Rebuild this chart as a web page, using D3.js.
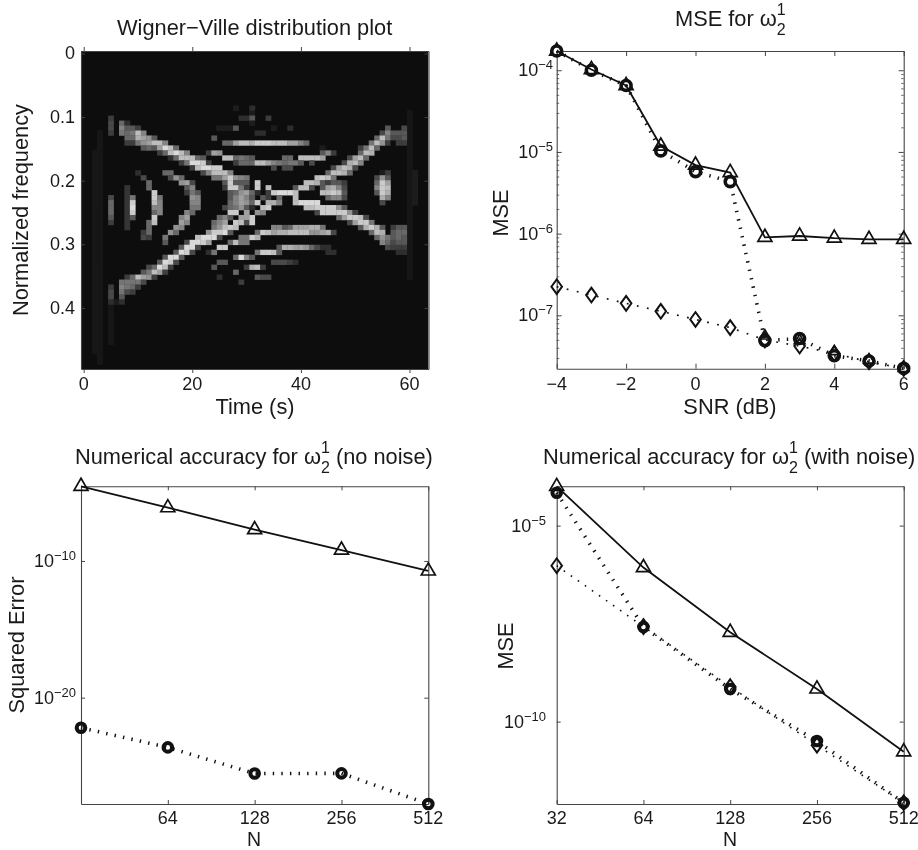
<!DOCTYPE html>
<html>
<head>
<meta charset="utf-8">
<script src="https://cdn.jsdelivr.net/npm/d3@7"></script>
<style>
  html, body { margin: 0; padding: 0; background: #fff; }
  svg { display: block; filter: blur(0.35px); }
  text { font-family: "Liberation Sans", Arial, sans-serif; fill: #1a1a1a; }
</style>
</head>
<body>
<svg id="chart" width="918" height="850"></svg>
<script>
const wvSize = 64;
const wvTimeTicks = [0, 20, 40, 60];
const wvFreqTicks = [0, 0.1, 0.2, 0.3, 0.4];
// [column, first row, last row, level] faint vertical bands
const wvStripes = [
  [3, 16, 62, 0.35], [2, 20, 60, 0.2], [60, 12, 45, 0.35], [61, 24, 30, 1], [8, 27, 35, 2.5], [5, 50, 58, 0.35]
];
// [row, first column, levels]
const wvRuns = [
  [11,28,"1"],[11,31,"2"],[12,31,"1"],
  [13,5,"3"],[13,29,"225"],[13,34,"3"],
  [14,5,"4"],[14,7,"62"],[14,31,"1"],
  [15,5,"4"],[15,7,"8553"],[15,25,"111"],[15,28,"5"],[15,35,"1"],[15,38,"2"],[15,56,"5"],[15,59,"4"],
  [16,5,"3"],[16,7,"767c8"],[16,32,"22"],[16,55,"48555"],
  [17,8,"66ba95"],[17,24,"5"],[17,54,"6c7445"],
  [18,8,"3379acc8"],[18,26,"66accbdddcccaa86"],[18,53,"7c93033"],
  [19,11,"565aec6"],[19,44,"1"],[19,51,"37c6"],
  [20,14,"36cec8"],[20,23,"3a9"],[20,44,"583"],[20,51,"6cb"],
  [21,16,"26ccc6"],[21,22,"5"],[21,26,"cc6765"],[21,37,"66"],[21,40,"cccca"],[21,49,"4ac6"],
  [22,18,"37eed3"],[22,28,"3666"],[22,32,"cca876775"],[22,42,"4"],[22,48,"4bc8"],
  [23,20,"3ceedd"],[23,35,"4"],[23,37,"44"],[23,46,"4acb4"],
  [24,10,"2"],[24,15,"66"],[24,22,"4"],[24,23,"8ccc8"],[24,45,"6ccb6"],[24,55,"13"],
  [25,11,"4"],[25,16,"496"],[25,24,"77ad987"],[25,43,"cdc7"],[25,54,"495"],
  [26,12,"6"],[26,18,"9a4"],[26,26,"5d555"],[26,32,"d"],[26,41,"ccb53553"],[26,54,"6da"],
  [27,12,"6"],[27,19,"58"],[27,26,"3dd73"],[27,32,"d"],[27,34,"c"],[27,39,"5cc4"],[27,44,"5ab84"],[27,54,"8dc"],
  [28,13,"d"],[28,19,"375"],[28,27,"569a62"],[28,34,"3deeec"],[28,44,"ccdc5"],[28,54,"5db"],
  [29,5,"4"],[29,9,"7"],[29,13,"d7"],[29,20,"98"],[29,27,"58a85"],[29,33,"53"],[29,36,"6"],[29,39,"c"],[29,45,"6884"],[29,55,"b8"],
  [30,5,"6"],[30,9,"d"],[30,13,"c8"],[30,20,"88"],[30,27,"68a96"],[30,32,"d"],[30,34,"bb"],[30,36,"8"],[30,39,"ceeee"],[30,55,"4"],
  [31,5,"6"],[31,9,"e"],[31,13,"88"],[31,20,"77"],[31,26,"467952"],[31,33,"cd"],[31,41,"ccdddd95"],
  [32,5,"6"],[32,9,"d"],[32,13,"68"],[32,19,"86"],[32,27,"dd"],[32,30,"a"],[32,32,"98"],[32,43,"4ddddd93"],
  [33,5,"5"],[33,9,"5"],[33,13,"d"],[33,18,"8a"],[33,25,"685"],[33,29,"aad"],[33,47,"6addc4"],
  [34,5,"3"],[34,12,"6c"],[34,18,"a8"],[34,24,"68a"],[34,28,"dc4"],[34,31,"d"],[34,49,"4add7"],
  [35,12,"6"],[35,17,"98"],[35,24,"79cdc"],[35,35,"8856aaabb7"],[35,51,"5bdb5"],[35,57,"355"],
  [36,11,"36"],[36,16,"96"],[36,23,"9dde5"],[36,32,"6dcabbcccc"],[36,42,"99ab4"],[36,53,"6cb"],[36,57,"566"],
  [37,11,"43"],[37,15,"7"],[37,21,"ceee4"],[37,29,"77db"],[37,54,"697565"],
  [38,15,"5"],[38,19,"4eeda"],[38,27,"6c77"],[38,55,"86455"],
  [39,18,"5ee4"],[39,25,"dd"],[39,36,"5bbaa96422"],[39,56,"4333"],
  [40,17,"5ed4"],[40,23,"27"],[40,32,"7ddc5"],[40,45,"22"],[40,58,"22"],
  [41,15,"5ee5"],[41,28,"6e85"],
  [42,14,"5ed4"],[42,25,"55"],[42,35,"44432"],
  [43,12,"46ec3"],[43,24,"5"],[43,30,"3bc3"],
  [44,11,"57ca3"],[44,28,"6"],
  [45,8,"36ca93"],[45,25,"2"],[45,32,"544"],
  [46,7,"77774"],[46,29,"3"],
  [47,5,"3"],[47,7,"8763"],
  [48,5,"4"],[48,7,"743"],
  [49,5,"4"],[49,7,"5"],
  [50,5,"212"]
];

// --- MSE vs SNR ---
const snrDb = [-4, -3, -2, -1, 0, 1, 2, 3, 4, 5, 6];
const snrTicks = [-4, -2, 0, 2, 4, 6];
const snrDecades = [1e-4, 1e-5, 1e-6, 1e-7];
const snrTriangle = [1.72e-4, 1.02e-4, 6.5e-5, 1.18e-5, 6.9e-6, 5.6e-6, 9.0e-7, 9.35e-7, 8.8e-7, 8.5e-7, 8.5e-7];
const snrCircle = [1.72e-4, 1.0e-4, 6.5e-5, 1.03e-5, 5.74e-6, 4.33e-6, 4.9e-8, 5.2e-8, 3.2e-8, 2.76e-8, 2.24e-8];
const snrDiamond = [2.24e-7, 1.77e-7, 1.4e-7, 1.12e-7, 8.9e-8, 7.07e-8, 4.99e-8, 4.2e-8, 3.4e-8, 2.7e-8, 2.24e-8];
// small triangles that peek out around the circles at high SNR
const snrLowDb = [2, 3, 4, 5, 6];
const snrLowTriangle = [5.6e-8, 4.9e-8, 3.6e-8, 2.84e-8, 2.24e-8];

// --- accuracy vs N ---
const sizesN = [32, 64, 128, 256, 512];
const sizesNoNoiseTicks = [64, 128, 256, 512];
const cleanDecades = [1e-10, 1e-20];
const cleanTriangle = [2.9e-5, 7.9e-7, 1.95e-8, 6.3e-10, 1.86e-11];
const cleanCircle = [6.3e-23, 2.3e-24, 2.8e-26, 2.9e-26, 1.66e-28];
const noisyDecades = [1e-5, 1e-10];
const noisyTriangle = [1.0e-4, 8.5e-7, 1.9e-8, 6.8e-10, 1.7e-11];
const noisyCircle = [6.9e-5, 2.6e-8, 6.8e-10, 3.2e-11, 8.5e-13];
const noisyDiamond = [9.5e-7, 2.65e-8, 7.8e-10, 2.5e-11, 8.5e-13];

const svg = d3.select("#chart");
const ink = "#111";
const axisInk = "#444";
const fontBig = 21.8;
const fontTick = 18;

svg.append("defs").append("filter")
  .attr("id", "soften")
  .attr("x", 0).attr("y", 0).attr("width", 1).attr("height", 1)
  .append("feGaussianBlur").attr("stdDeviation", 0.5);

// box with inward ticks on all four sides
function drawBox(g, x, y, xTicks, yTicks, tickLen) {
  const [x0, x1] = x.range();
  const [y1, y0] = y.range();
  const mirror = [
    d3.axisBottom(x).tickValues(xTicks).tickSize(-tickLen).tickSizeOuter(0).tickFormat(""),
    d3.axisTop(x).tickValues(xTicks).tickSize(-tickLen).tickSizeOuter(0).tickFormat(""),
    d3.axisLeft(y).tickValues(yTicks).tickSize(-tickLen).tickSizeOuter(0).tickFormat(""),
    d3.axisRight(y).tickValues(yTicks).tickSize(-tickLen).tickSizeOuter(0).tickFormat("")
  ];
  const spots = [[0, y1], [0, y0], [x0, 0], [x1, 0]];
  mirror.forEach(function (ax, i) {
    const a = g.append("g").attr("transform", "translate(" + spots[i] + ")").call(ax);
    a.selectAll("path").attr("stroke", axisInk).attr("stroke-width", 1.1);
    a.selectAll("line").attr("stroke", axisInk).attr("stroke-width", 1);
  });
}

function xLabels(g, x, ticks, fmt, baseline) {
  g.selectAll(null).data(ticks).enter().append("text")
    .attr("x", d => x(d))
    .attr("y", baseline)
    .attr("text-anchor", "middle")
    .attr("font-size", fontTick)
    .text(fmt);
}

// 10^-n labels on a log axis
function decadeLabels(g, y, decades, right) {
  const t = g.selectAll(null).data(decades).enter().append("text")
    .attr("x", right)
    .attr("y", d => y(d) + 6)
    .attr("text-anchor", "end")
    .attr("font-size", fontTick);
  t.append("tspan").text("10");
  t.append("tspan")
    .attr("font-size", 13)
    .attr("dy", -7)
    .text(d => "\u2212" + Math.round(-Math.log10(d)));
}

function yTitle(label, cx, cy) {
  svg.append("text")
    .attr("transform", "translate(" + cx + "," + cy + ") rotate(-90)")
    .attr("text-anchor", "middle")
    .attr("dominant-baseline", "central")
    .attr("font-size", fontBig)
    .text(label);
}

function xTitle(label, cx, baseline, size) {
  svg.append("text")
    .attr("x", cx).attr("y", baseline)
    .attr("text-anchor", "middle")
    .attr("font-size", size)
    .text(label);
}

// title with omega, stacked sub 2 and super 1
function omegaTitle(before, after, left, baseline) {
  const t = svg.append("text")
    .attr("x", left).attr("y", baseline)
    .attr("font-size", fontBig);
  t.append("tspan").text(before + "\u03c9");
  t.append("tspan").attr("font-size", 16).attr("dy", 9).text("2");
  t.append("tspan").attr("font-size", 16).attr("dx", -8.9).attr("dy", -20).text("1");
  t.append("tspan").attr("dy", 11).text(after);
}

function drawLine(g, x, y, xs, ys, width, dash) {
  const line = d3.line().x(d => x(d[0])).y(d => y(d[1]));
  g.append("path")
    .datum(d3.zip(xs, ys))
    .attr("d", line)
    .attr("fill", "none")
    .attr("stroke", ink)
    .attr("stroke-width", width)
    .attr("stroke-dasharray", dash);
}

function drawSymbols(g, x, y, xs, ys, type, size, width, stretch) {
  g.selectAll(null).data(d3.zip(xs, ys)).enter().append("path")
    .attr("d", d3.symbol().type(type).size(size))
    .attr("transform", d => "translate(" + x(d[0]) + "," + y(d[1]) + ") scale(" + stretch + ",1)")
    .attr("fill", "none")
    .attr("stroke", ink)
    .attr("stroke-width", width);
}

function drawRings(g, x, y, xs, ys, r, width) {
  g.selectAll(null).data(d3.zip(xs, ys)).enter().append("circle")
    .attr("cx", d => x(d[0]))
    .attr("cy", d => y(d[1]))
    .attr("r", r)
    .attr("fill", "none")
    .attr("stroke", ink)
    .attr("stroke-width", width);
}

const solidDash = null;
// the thick dotted line is really short bars across the path
const thickDots = "1.4 7.2";
const thickWidth = 3.6;
const thinDots = "1.6 7";
const thinDotsWide = "1.8 8.5";

// ---------- top left: Wigner-Ville ----------
function plotWigner() {
  const g = svg.append("g");
  const grey = d3.scaleLinear().domain([0, 15]).range(["#111111", "#e8e8e8"]);
  const colBand = d3.scaleBand().domain(d3.range(wvSize)).range([81, 428.5]);
  const rowBand = d3.scaleBand().domain(d3.range(wvSize)).range([51, 369]);
  const x = d3.scaleLinear().domain([-0.5, 63.5]).range([81, 428.5]);
  const y = d3.scaleLinear().domain([-0.0039, 0.4961]).range([51, 369]);

  const cells = [];
  wvStripes.forEach(function (s) {
    d3.range(s[1], s[2] + 1).forEach(r => cells.push({ r: r, c: s[0], v: s[3] }));
  });
  wvRuns.forEach(function (run) {
    run[2].split("").forEach(function (ch, i) {
      cells.push({ r: run[0], c: run[1] + i, v: parseInt(ch, 16) });
    });
  });

  g.append("clipPath").attr("id", "wvClip").append("rect")
    .attr("x", 81).attr("y", 51).attr("width", 347.5).attr("height", 318);
  const img = g.append("g").attr("clip-path", "url(#wvClip)").append("g").attr("filter", "url(#soften)");
  img.append("rect")
    .attr("x", 81).attr("y", 51).attr("width", 347.5).attr("height", 318)
    .attr("fill", grey(0));
  img.selectAll(null).data(cells).enter().append("rect")
    .attr("x", d => colBand(d.c))
    .attr("y", d => rowBand(d.r))
    .attr("width", colBand.bandwidth() + 0.3)
    .attr("height", rowBand.bandwidth() + 0.3)
    .attr("fill", d => grey(d.v));

  drawBox(g, x, y, wvTimeTicks, wvFreqTicks, 4);
  xLabels(g, x, wvTimeTicks, d => d, 390);
  g.selectAll(null).data(wvFreqTicks).enter().append("text")
    .attr("x", 75)
    .attr("y", d => y(d) + 6)
    .attr("text-anchor", "end")
    .attr("font-size", fontTick)
    .text(d => d);

  svg.append("text").attr("x", 117).attr("y", 35).attr("font-size", fontBig).text("Wigner\u2212Ville distribution plot");
  xTitle("Time (s)", 255, 414, fontBig);
  yTitle("Normalized frequency", 20, 210);
}

// ---------- top right: MSE vs SNR ----------
function plotSnr() {
  const g = svg.append("g");
  const x = d3.scaleLinear().domain([-4, 6]).range([556.7, 903.7]);
  const y = d3.scaleLog().domain([2.22e-8, 1.72e-4]).range([368.7, 51]);

  // decades plus minor ticks inside the window
  const minors = [];
  [1e-8, 1e-7, 1e-6, 1e-5, 1e-4].forEach(function (dec) {
    d3.range(2, 10).forEach(function (m) {
      const v = dec * m;
      if (v > 2.22e-8 && v < 1.72e-4) minors.push(v);
    });
  });
  drawBox(g, x, y, snrTicks, snrDecades, 5);
  const minorAxes = [
    [d3.axisLeft(y), 556.7],
    [d3.axisRight(y), 903.7]
  ];
  minorAxes.forEach(function (m) {
    const a = g.append("g").attr("transform", "translate(" + m[1] + ",0)")
      .call(m[0].tickValues(minors).tickSize(-2.5).tickSizeOuter(0).tickFormat(""));
    a.select("path").remove();
    a.selectAll("line").attr("stroke", axisInk).attr("stroke-width", 0.8);
  });

  xLabels(g, x, snrTicks, d => String(d).replace("-", "\u2212"), 390);
  decadeLabels(g, y, snrDecades, 553);

  drawLine(g, x, y, snrDb, snrDiamond, 1.7, thinDotsWide);
  drawLine(g, x, y, snrDb, snrCircle, thickWidth, thickDots);
  drawLine(g, x, y, snrDb, snrTriangle, 1.8, solidDash);
  drawSymbols(g, x, y, snrDb, snrDiamond, d3.symbolDiamond, 62, 1.7, 1.25);
  drawSymbols(g, x, y, snrDb, snrTriangle, d3.symbolTriangle, 85, 1.7, 1);
  drawSymbols(g, x, y, snrLowDb, snrLowTriangle, d3.symbolTriangle, 50, 1.7, 1);
  drawRings(g, x, y, snrDb, snrCircle, 5, 3.6);

  omegaTitle("MSE for ", "", 675, 26);
  xTitle("SNR (dB)", 730, 414, fontBig);
  yTitle("MSE", 500.7, 213);
}

// ---------- bottom left: no noise ----------
function plotClean() {
  const g = svg.append("g");
  const x = d3.scaleLog().base(2).domain([32, 512]).range([81, 428.3]);
  const y = d3.scaleLog().domain([1.66e-28, 2.9e-5]).range([804, 486.3]);

  drawBox(g, x, y, sizesNoNoiseTicks, cleanDecades, 4);
  xLabels(g, x, sizesNoNoiseTicks, d => d, 824.4);
  decadeLabels(g, y, cleanDecades, 76);

  drawLine(g, x, y, sizesN, cleanCircle, thickWidth, thickDots);
  drawLine(g, x, y, sizesN, cleanTriangle, 1.8, solidDash);
  drawSymbols(g, x, y, sizesN, cleanTriangle, d3.symbolTriangle, 85, 1.7, 1);
  drawRings(g, x, y, sizesN, cleanCircle, 4.3, 4);

  omegaTitle("Numerical accuracy for ", " (no noise)", 75, 464);
  xTitle("N", 254, 845.8, 19.5);
  yTitle("Squared Error", 16, 645);
}

// ---------- bottom right: with noise ----------
function plotNoisy() {
  const g = svg.append("g");
  const x = d3.scaleLog().base(2).domain([32, 512]).range([556.7, 903.7]);
  const y = d3.scaleLog().domain([7.9e-13, 1.007e-4]).range([804, 486.3]);

  drawBox(g, x, y, sizesN, noisyDecades, 4);
  xLabels(g, x, sizesN, d => d, 824.4);
  decadeLabels(g, y, noisyDecades, 546);

  drawLine(g, x, y, sizesN, noisyDiamond, 1.6, thinDots);
  drawLine(g, x, y, sizesN, noisyCircle, thickWidth, thickDots);
  drawLine(g, x, y, sizesN, noisyTriangle, 1.8, solidDash);
  drawSymbols(g, x, y, sizesN, noisyDiamond, d3.symbolDiamond, 62, 1.7, 1.25);
  drawSymbols(g, x, y, sizesN, noisyTriangle, d3.symbolTriangle, 85, 1.7, 1);
  drawRings(g, x, y, sizesN, noisyCircle, 4.3, 4);

  omegaTitle("Numerical accuracy for ", " (with noise)", 543, 464);
  xTitle("N", 730, 845.8, 19.5);
  yTitle("MSE", 505, 646);
}

plotWigner();
plotSnr();
plotClean();
plotNoisy();
</script>
</body>
</html>
